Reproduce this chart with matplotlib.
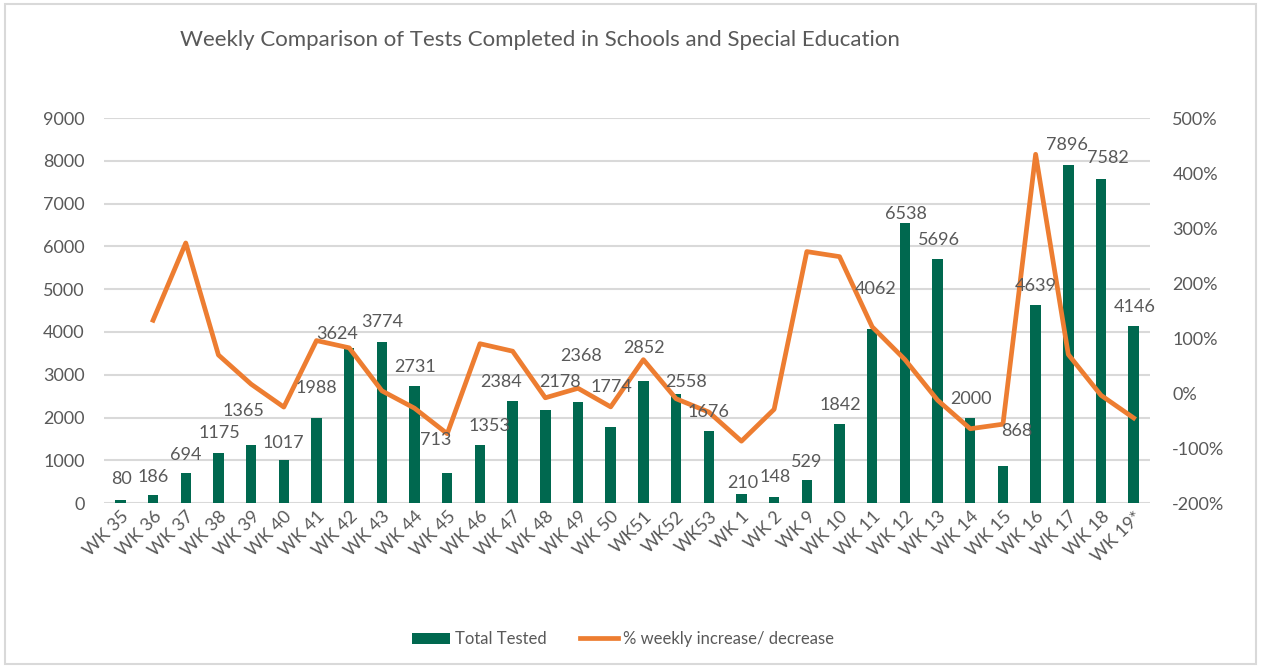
import matplotlib.pyplot as plt
from matplotlib.patches import Rectangle

# Semanas y datos
weeks = ["WK 35", "WK 36", "WK 37", "WK 38", "WK 39", "WK 40", "WK 41", "WK 42",
         "WK 43", "WK 44", "WK 45", "WK 46", "WK 47", "WK 48", "WK 49", "WK 50",
         "WK51", "WK52", "WK53", "WK 1", "WK 2", "WK 9", "WK 10", "WK 11",
         "WK 12", "WK 13", "WK 14", "WK 15", "WK 16", "WK 17", "WK 18", "WK 19*"]
total_tested = [80, 186, 694, 1175, 1365, 1017, 1988, 3624, 3774, 2731, 713, 1353,
                2384, 2178, 2368, 1774, 2852, 2558, 1676, 210, 148, 529, 1842, 4062,
                6538, 5696, 2000, 868, 4639, 7896, 7582, 4146]
# % cambio semanal (sin valor para la primera semana)
weekly_change = [None, 132.5, 273.1, 69.3, 16.2, -25.5, 95.5, 82.3, 4.1, -27.6, -73.9,
                 89.8, 76.2, -8.6, 8.7, -25.1, 60.8, -10.3, -34.5, -87.5, -29.5, 257.4,
                 248.2, 120.5, 61.0, -12.9, -64.9, -56.6, 434.4, 70.2, -4.0, -45.3]

# Desplazamiento (px) de cada etiqueta respecto al extremo de la barra, como en Excel
label_dx = [1, 0, 0, 1, -8, 0, 0, -12, 0, 1, -12, 10, -12, 15, 3, 1,
            1, 10, 0, 1, 1, 0, 1, 3, 1, 1, 1, 14, 0, -1, 7, 1]
label_dy = [21, 18, 18, 20, 34, 17, 30, 14, 20, 19, 33, 19, 19, 28, 46, 40,
            33, 12, 19, 11, 20, 18, 19, 40, 9, 19, 19, 35, 19, 20, 21, 19]

GREEN = "#00684F"
ORANGE = "#ED7D31"
GREY = "#595959"
GRID = "#D9D9D9"

plt.rcParams['font.family'] = ['Lato', 'DejaVu Sans']

fig = plt.figure(figsize=(12.61, 6.68), dpi=100)
ax = fig.add_axes([0.0825, 0.247, 0.8295, 0.576])
ax2 = ax.twinx()

x = list(range(len(weeks)))
ax.bar(x, total_tested, width=0.32, color=GREEN, zorder=3, label="Total Tested")

xs = [xi for xi, c in zip(x, weekly_change) if c is not None]
cs = [c for c in weekly_change if c is not None]
ax2.plot(xs, cs, color=ORANGE, lw=3.4, solid_joinstyle="round", zorder=4,
         label="% weekly increase/ decrease")

# etiquetas encima de la linea (ax2 se dibuja despues de ax)
px = 72 / fig.dpi
for xi, v, dx, dy in zip(x, total_tested, label_dx, label_dy):
    ax2.annotate(str(v), (xi, v), xycoords=ax.transData,
                 xytext=(dx * px, dy * px), textcoords="offset points",
                 ha="center", va="center", fontsize=13, color=GREY, zorder=5,
                 annotation_clip=False)

ax.set_xlim(-0.5, len(weeks) - 0.5)
ax.set_ylim(0, 9000)
ax.set_yticks(range(0, 9001, 1000))
ax2.set_ylim(-200, 500)
ax2.set_yticks(range(-200, 501, 100))
ax2.set_yticklabels([f"{t}%" for t in range(-200, 501, 100)])

ax.set_xticks(x)
ax.set_xticklabels(weeks, rotation=45, ha="right", rotation_mode="anchor")
ax.grid(axis="y", color=GRID, lw=1.5, zorder=0)
ax.set_axisbelow(True)

for a in (ax, ax2):
    for s in a.spines.values():
        s.set_visible(False)
    a.tick_params(length=0, labelsize=13, labelcolor=GREY)
ax.tick_params(axis="y", pad=14)
ax2.tick_params(axis="y", pad=16)
ax.tick_params(axis="x", pad=4)

fig.text(0.428, 0.94, "Weekly Comparison of Tests Completed in Schools and Special Education",
         ha="center", va="center", fontsize=16, color=GREY)

h1, l1 = ax.get_legend_handles_labels()
h2, l2 = ax2.get_legend_handles_labels()
fig.legend(h1 + h2, l1 + l2, loc="center", bbox_to_anchor=(0.494, 0.043), ncol=2,
           frameon=False, fontsize=12, labelcolor=GREY, handlelength=2.3,
           handletextpad=0.3, columnspacing=2.0)

fig.patches.append(Rectangle((0.004, 0.006), 0.992, 0.988, transform=fig.transFigure,
                             fill=False, edgecolor=GRID, lw=1.5))

fig.savefig("out.png", dpi=100)
